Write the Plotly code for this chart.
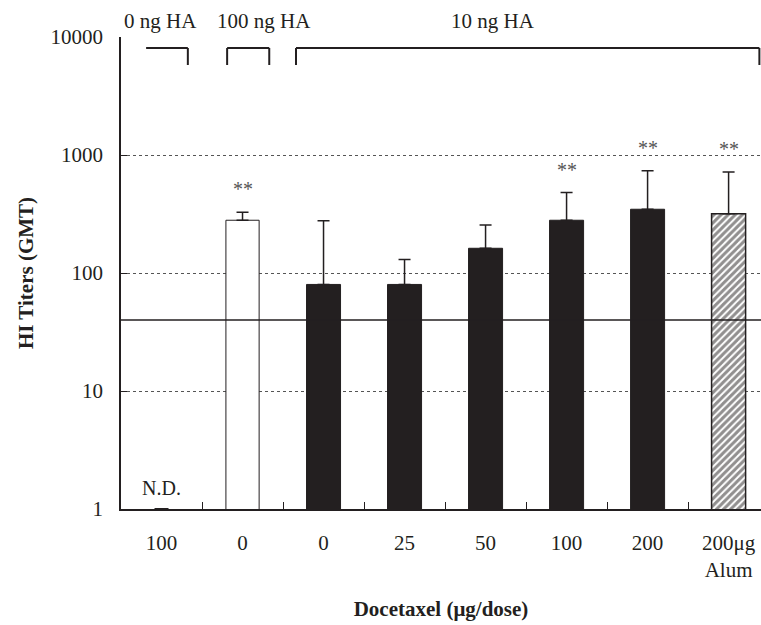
import math
import plotly.graph_objects as go

# ---- data ----
tick_labels = ["100", "0", "0", "25", "50", "100", "200", "200μg<br>Alum"]
gmt = [None, 280, 80, 80, 162, 280, 347, 318]
err_upper = [None, 327, 277, 130, 255, 480, 736, 718]
significant = [False, True, False, False, False, True, True, True]
nd_value = [1]
threshold = 40
group_labels = ["0 ng HA", "100 ng HA", "10 ng HA"]
group_label_x = [-0.01, 1.27, 4.09]
bracket_spans = [(-0.19, 0.325), (0.81, 1.33), (1.66, 7.38)]

FONT = "Liberation Serif"
INK = "#231F20"
x = list(range(len(tick_labels)))

white_x = [1]
black_x = [2, 3, 4, 5, 6]
hatch_x = [7]

def sub(idx, arr):
    return [arr[i] for i in idx]

def plus(idx):
    return [err_upper[i] - gmt[i] for i in idx]

fig = go.Figure()

err_style = dict(type="data", symmetric=False, color=INK, thickness=1.5, width=6)

fig.add_trace(go.Bar(
    x=white_x, y=sub(white_x, gmt), width=0.41,
    marker=dict(color="white", line=dict(color=INK, width=1)),
    error_y=dict(array=plus(white_x), arrayminus=[0] * len(white_x), **err_style),
    showlegend=False))
fig.add_trace(go.Bar(
    x=black_x, y=sub(black_x, gmt), width=0.42,
    marker=dict(color=INK, line=dict(color=INK, width=1)),
    error_y=dict(array=plus(black_x), arrayminus=[0] * len(black_x), **err_style),
    showlegend=False))
fig.add_trace(go.Bar(
    x=hatch_x, y=sub(hatch_x, gmt), width=0.42,
    marker=dict(color="white", line=dict(color=INK, width=1.5),
                pattern=dict(shape="/", fgcolor=INK, bgcolor="white", size=5, solidity=0.6)),
    error_y=dict(array=plus(hatch_x), arrayminus=[0] * len(hatch_x), **err_style),
    showlegend=False))

# N.D. marker
fig.add_trace(go.Scatter(
    x=[0], y=nd_value, mode="markers",
    marker=dict(symbol="line-ew", size=10, line=dict(color=INK, width=2)),
    cliponaxis=False, showlegend=False, hoverinfo="skip"))

fig.add_hline(y=threshold, line=dict(color=INK, width=1.5))

ann = []
for i in x:
    if significant[i]:
        ann.append(dict(x=i, y=math.log10(err_upper[i]), text="**", showarrow=False,
                        yshift=23, font=dict(family=FONT, size=20, color="#555")))
ann.append(dict(x=0, y=math.log10(nd_value[0]), text="N.D.", showarrow=False, yshift=21,
                font=dict(family=FONT, size=20, color=INK)))
for lbl, gx in zip(group_labels, group_label_x):
    ann.append(dict(x=gx, y=1.064, yref="paper", text=lbl, showarrow=False,
                    font=dict(family=FONT, size=21, color=INK)))

shapes = []
TOP, LEG = 0.9767, 0.9407
for x0, x1 in bracket_spans:
    for (a, b, c, d) in [(x0, LEG, x0, TOP), (x0, TOP, x1, TOP), (x1, TOP, x1, LEG)]:
        shapes.append(dict(type="line", xref="x", yref="paper", x0=a, y0=b, x1=c, y1=d,
                           line=dict(color=INK, width=2)))

fig.update_layout(
    width=761, height=625,
    margin=dict(l=121, r=0, t=37, b=116),
    paper_bgcolor="white", plot_bgcolor="white",
    annotations=ann, shapes=shapes,
    xaxis=dict(range=[-0.5, 7.4], tickvals=x, ticktext=tick_labels, ticks="",
               showgrid=False, zeroline=False, showline=True, linecolor=INK, linewidth=1.5,
               tickfont=dict(family=FONT, size=21, color=INK), ticklabelstandoff=14,
               minor=dict(tickvals=[i + 0.5 for i in x[:-1]], ticks="inside", ticklen=7,
                          tickcolor=INK, tickwidth=1, showgrid=False),
               title=dict(text="<b>Docetaxel (μg/dose)</b>", standoff=20,
                          font=dict(family=FONT, size=21, color=INK))),
    yaxis=dict(type="log", range=[0, 4], tickvals=[1, 10, 100, 1000, 10000],
               ticktext=["1", "10", "100", "1000", "10000"],
               ticks="inside", ticklen=6, tickcolor=INK, ticklabelstandoff=12,
               showgrid=True, gridcolor="#555", griddash="dot", gridwidth=1,
               zeroline=False, showline=True, linecolor=INK, linewidth=1.5,
               tickfont=dict(family=FONT, size=21, color=INK),
               title=dict(text="<b>HI Titers (GMT)</b>", standoff=11,
                          font=dict(family=FONT, size=21, color=INK))),
)

fig.write_html("out.html", config={"displayModeBar": False},
               post_script="document.body.style.margin='0';document.body.style.overflow='hidden';")
